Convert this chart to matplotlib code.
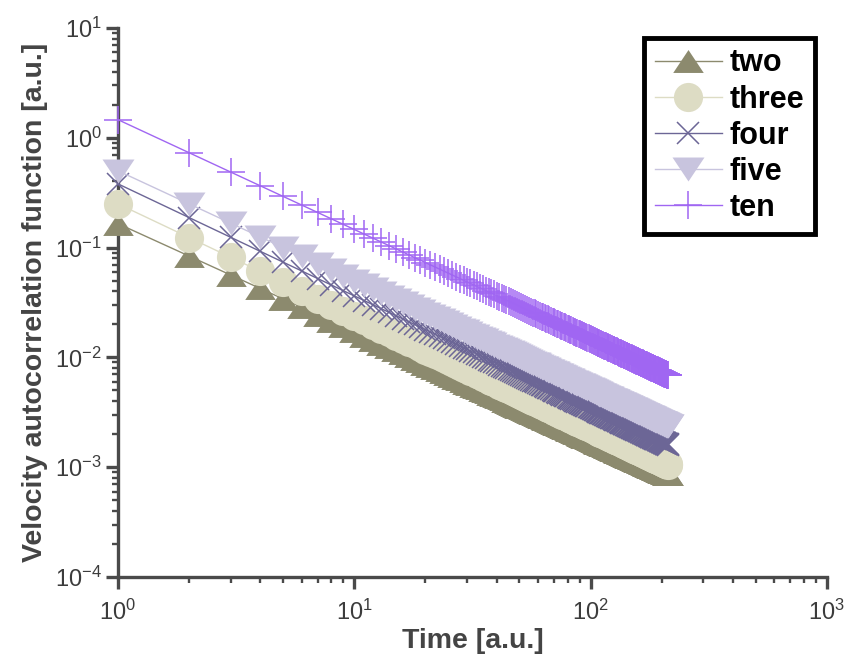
import numpy as np
import matplotlib
matplotlib.use('Agg')
from matplotlib import pyplot as plt

plt.rcParams['font.family'] = ['Liberation Sans', 'DejaVu Sans']

# series: value at t=1 and log-log slope
labels = ['two', 'three', 'four', 'five', 'ten']
amplitudes = [0.165, 0.25, 0.38, 0.50, 1.46]
exponents = [-0.98, -1.02, -1.02, -1.0, -1.0]
n_points = 213
colors = ['#8c8a6e', '#dddcc4', '#6c6696', '#c8c4de', '#a066f2']

# flattened triangles like the original markers
tri_up = [(0, 0.75), (-1, -0.75), (1, -0.75)]
tri_down = [(0, -0.75), (-1, 0.75), (1, 0.75)]
markers = [tri_up, 'o', 'x', tri_down, '+']
sizes = [22, 21, 16, 23, 20]

axis_color = '#4a4a4a'

t = np.arange(1, n_points + 1)

fig = plt.figure(figsize=(8.45, 6.64), dpi=100)
ax = fig.add_axes([0.1396, 0.131, 0.839, 0.827])

for lab, a, p, c, m, s in zip(labels, amplitudes, exponents, colors, markers, sizes):
    y = a * t ** p
    filled = m not in ('x', '+')
    ax.plot(t, y, color=c, lw=1.0, marker=m, ms=s,
            markerfacecolor=c, markeredgecolor=c if not filled else 'none',
            markeredgewidth=1.1, label=lab, clip_on=False, zorder=3)

ax.set_xscale('log')
ax.set_yscale('log')
ax.set_xlim(1, 1000)
ax.set_ylim(1e-4, 10)

for side in ['top', 'right']:
    ax.spines[side].set_visible(False)
for side in ['left', 'bottom']:
    ax.spines[side].set_color(axis_color)
    ax.spines[side].set_linewidth(2.4)

ax.tick_params(which='major', direction='out', length=8.5, width=2.4,
               color=axis_color, labelcolor='#3c3c3c', labelsize=17)
ax.tick_params(axis='x', which='major', pad=8)
ax.tick_params(axis='y', which='major', pad=3)
ax.tick_params(which='minor', direction='out', length=4.5, width=1.7,
               color=axis_color)
ax.yaxis.set_minor_locator(matplotlib.ticker.LogLocator(base=10, subs=np.arange(2, 10), numticks=20))
ax.xaxis.set_minor_locator(matplotlib.ticker.LogLocator(base=10, subs=np.arange(2, 10), numticks=20))
ax.yaxis.set_minor_formatter(matplotlib.ticker.NullFormatter())
ax.xaxis.set_minor_formatter(matplotlib.ticker.NullFormatter())

ax.set_xlabel('Time [a.u.]', fontsize=20.5, fontweight='bold', color='#444444', labelpad=2)
ax.set_ylabel('Velocity autocorrelation function [a.u.]', fontsize=20.5,
              fontweight='bold', color='#444444', labelpad=5)

leg = ax.legend(loc='upper right', bbox_to_anchor=(0.983, 0.982), borderaxespad=0,
                fancybox=False, framealpha=1, edgecolor='black',
                prop={'weight': 'bold', 'size': 22}, labelspacing=0.2,
                handlelength=2.2, handletextpad=0.25, borderpad=0.35)
leg.get_frame().set_linewidth(3.5)
leg.set_zorder(5)

fig.savefig('out.png', dpi=100)
